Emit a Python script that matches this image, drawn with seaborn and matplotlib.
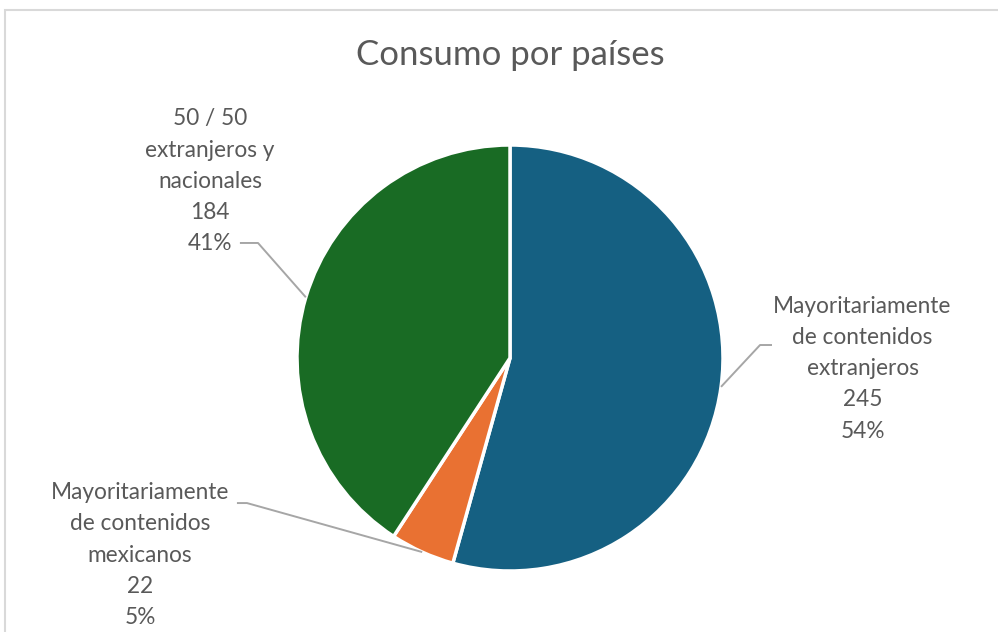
import matplotlib.pyplot as plt
import numpy as np
import seaborn as sns
from matplotlib.patches import Rectangle

# data
categories = [
    "Mayoritariamente\nde contenidos\nextranjeros",
    "Mayoritariamente\nde contenidos\nmexicanos",
    "50 / 50\nextranjeros y\nnacionales",
]
values = [245, 22, 184]
colors = ["#156082", "#E97132", "#196B24"]

# label placement (pie data coords): text centre, elbow, end of leader
label_pos = [(1.655, -0.05), (-1.737, -0.925), (-1.408, 0.83)]
elbows = [(1.174, 0.061), (-1.235, -0.681), (-1.183, 0.54)]
line_ends = [(1.23, 0.061), (-1.282, -0.681), (-1.268, 0.54)]

TEXT = "#595959"
LEADER = "#A6A6A6"

sns.set_theme(style="white")
plt.rcParams["font.family"] = ["Lato", "DejaVu Sans"]

fig = plt.figure(figsize=(9.98, 6.32), dpi=100)
fig.patch.set_facecolor("white")

# chart area border (cropped at right/bottom like the source)
fig.add_artist(Rectangle((5 / 998, -0.05), 1.1, 1 - 10 / 632 + 0.05,
                         transform=fig.transFigure, fill=False,
                         edgecolor="#D9D9D9", lw=1.5))

cx, cy, r = 510, 358, 213
ax = fig.add_axes([(cx - r) / 998, (632 - cy - r) / 632, 2 * r / 998, 2 * r / 632])
wedges, _ = ax.pie(values, colors=sns.color_palette(colors), startangle=90,
                   counterclock=False, radius=1,
                   wedgeprops=dict(edgecolor="white", linewidth=2.5))
ax.set_xlim(-1, 1)
ax.set_ylim(-1, 1)
ax.set_aspect("auto")
ax.axis("off")

total = sum(values)
for w, cat, v, pos, elb, end in zip(wedges, categories, values, label_pos, elbows, line_ends):
    mid = np.deg2rad((w.theta1 + w.theta2) / 2)
    x0, y0 = np.cos(mid), np.sin(mid)
    ax.plot([x0, elb[0], end[0]], [y0, elb[1], end[1]], color=LEADER, lw=1.4,
            clip_on=False, solid_capstyle="butt")
    pct = round(100 * v / total)
    ax.text(pos[0], pos[1], f"{cat}\n{v}\n{pct}%", ha="center", va="center",
            fontsize=16.3, color=TEXT, linespacing=1.6, clip_on=False)

fig.text(0.511, 1 - 55 / 632, "Consumo por países", ha="center", va="center",
         fontsize=25, color=TEXT)

fig.savefig("out.png", dpi=100)
